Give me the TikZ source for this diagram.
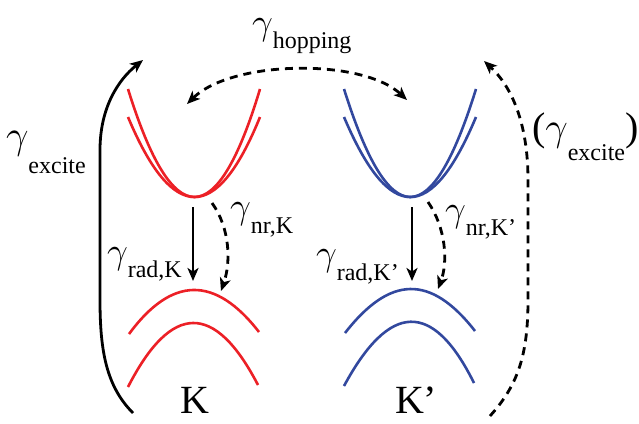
\RequirePackage{fix-cm}
\documentclass[tikz,border=0pt]{standalone}
\usepackage{fontspec}
\setmainfont{Liberation Serif}
\usetikzlibrary{arrows.meta}
\definecolor{bandred}{RGB}{236,32,38}
\definecolor{bandblue}{RGB}{50,72,158}
\newcommand\gbig{\fontsize{40}{42}\selectfont}
\newcommand\gmid{\fontsize{37}{39}\selectfont}
\newcommand\gsub{\fontsize{24}{26}\selectfont}
\newcommand\gm{\ensuremath{\gamma}}
\tikzset{
  band/.style={line width=2.6pt},
  arr/.style={line width=2.8pt,-{Stealth[length=13pt,width=11pt,inset=3.5pt]}},
  darr/.style={arr,dash pattern=on 8pt off 6pt},
  dbarr/.style={darr,{Stealth[length=13pt,width=11pt,inset=3.5pt]}-{Stealth[length=13pt,width=11pt,inset=3.5pt]}},
  lab/.style={anchor=base west,inner sep=0pt,outer sep=0pt},
}
\begin{document}
\begin{tikzpicture}[x=1pt,y=-1pt]
\useasboundingbox (0,0) rectangle (639,423);
% red bands
\draw[band,bandred] (128,89) .. controls (172.7,233) and (216.7,233) .. (260,89);
\draw[band,bandred] (128,117) .. controls (172.7,223.7) and (216.7,223.7) .. (260,117);
\draw[band,bandred] (129,334) .. controls (171.7,276) and (215,275.3) .. (259,332);
\draw[band,bandred] (128,387) .. controls (171.3,302.3) and (214.7,301.7) .. (258,385);
% blue bands
\draw[band,bandblue] (344,89) .. controls (389.3,233) and (431.3,233) .. (476,89);
\draw[band,bandblue] (344,117) .. controls (389.3,223.7) and (431.3,223.7) .. (476,117);
\draw[band,bandblue] (345,333) .. controls (389.7,275.7) and (430.3,273.7) .. (475,331);
\draw[band,bandblue] (344,386) .. controls (389.3,302) and (432.7,299.7) .. (474,383);
% coordinates
\coordinate (rKtop) at (193,207);
\coordinate (rKbot) at (193,281);
\coordinate (nKtop) at (212,203);
\coordinate (nKbot) at (221,291);
\coordinate (rKptop) at (412,207);
\coordinate (rKpbot) at (412,281);
\coordinate (nKptop) at (428,202);
\coordinate (nKpbot) at (438,289);
\coordinate (hopL) at (187,104);
\coordinate (hopR) at (407,100);
\coordinate (exLs) at (133,413);
\coordinate (exLe) at (143,60);
\coordinate (exRs) at (490,416);
\coordinate (exRe) at (484,61);
% arrows
\draw[arr] (rKtop) -- (rKbot);
\draw[arr] (rKptop) -- (rKpbot);
\draw[darr] (nKtop) .. controls (230,228) and (231,262) .. (nKbot);
\draw[darr] (nKptop) .. controls (446,228) and (448,262) .. (nKpbot);
\draw[dbarr] (hopL) .. controls (232,60) and (362,58) .. (hopR);
\draw[arr] (exLs) .. controls (106,386) and (100,350) .. (100,300) -- (100,150) .. controls (100,108) and (118,80) .. (exLe);
\draw[darr] (exRs) .. controls (518,385) and (528,355) .. (528,300) -- (528,180) .. controls (528,122) and (511,86) .. (exRe);
% labels
\node[lab] (lexL) at (6,148) {\gbig\gm\raisebox{-25pt}{\gsub excite}};
\node[lab] (lhop) at (252,34) {\gmid\gm\raisebox{-14pt}{\gsub hopping}};
\node[lab] (lexR) at (532,140) {\gbig(\gm\raisebox{-20pt}{\gsub excite})};
\node[lab] (lradK) at (107,263) {\gmid\gm\raisebox{-14pt}{\gsub rad,K}};
\node[lab] (lnrK) at (230,218) {\gmid\gm\raisebox{-15pt}{\gsub nr,K}};
\node[lab] (lradKp) at (316,265) {\gmid\gm\raisebox{-15pt}{\gsub rad,K’}};
\node[lab] (lnrKp) at (445,221) {\gmid\gm\raisebox{-14pt}{\gsub nr,K’}};
\node[lab] (lK) at (180,413) {\fontsize{40}{42}\selectfont K};
\node[lab] (lKp) at (395,413) {\fontsize{40}{42}\selectfont K’};
\end{tikzpicture}
\end{document}
